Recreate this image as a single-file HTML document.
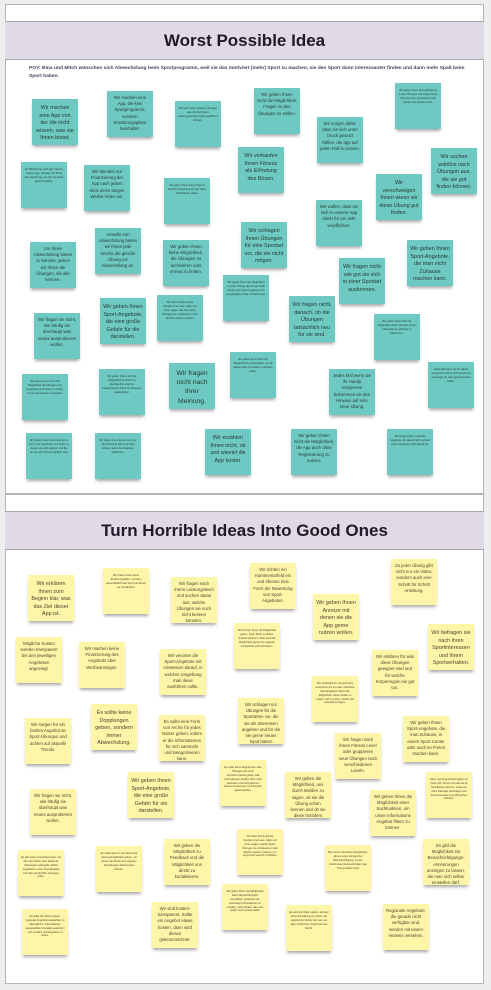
<!DOCTYPE html>
<html><head><meta charset="utf-8"><style>
html,body{margin:0;padding:0;}
body{width:491px;height:990px;background:#eeeeee;position:relative;overflow:hidden;font-family:"Liberation Sans",sans-serif;}
.fr{position:absolute;left:5px;width:479px;background:#fff;border:1px solid #b5b5b5;box-sizing:border-box;}
.band{position:absolute;left:5px;width:479px;background:#e0dae6;border-top:1px solid #a9a4ad;border-bottom:1px solid #a9a4ad;box-sizing:border-box;text-align:center;font-weight:bold;font-size:17px;color:#1f1a2a;}
.n{position:absolute;width:46px;height:46px;box-sizing:border-box;padding:4px 3px;text-align:center;font-size:4.3px;line-height:1.45;color:#2a3a38;box-shadow:0 3px 3px -1px rgba(0,0,0,0.35);overflow:hidden;}
.g{background:#6dc9c1;}
.y{background:#fdf5a8;color:#4a4630;}
.b{font-size:5.4px;line-height:1.4;padding-top:6px;}
.t{font-size:2.6px;line-height:1.5;padding-top:6px;}
.L{font-size:6.8px;line-height:1.35;padding-top:6px;}
</style></head><body>
<div class="fr" style="top:4px;height:490px;"></div>
<div class="band" style="top:21px;height:39px;line-height:37px;">Worst Possible Idea</div>
<div style="position:absolute;left:29px;top:65px;width:440px;font-size:4.9px;line-height:7.5px;font-weight:bold;color:#4a3a5a;">POV: Bina und Mitch wünschen sich Abwechslung beim Sportprogramm, weil sie das motiviert (mehr) Sport zu machen, sie den Sport dann interessanter finden und dann mehr Spaß beim Sport haben.</div>

<div class="n g b" style="left:32px;top:99px;">Wir machen eine App von der die nicht wissen, was sie Ihnen bietet.</div>
<div class="n g" style="left:107px;top:91px;">Wir machen eine App, die kein Sportprogramm, sondern Ernährungspläne beinhaltet.</div>
<div class="n g t" style="left:175px;top:101px;">Wir such einer schwere Übungen aus, die höchstens Leistungssportler richtig ausführen können.</div>
<div class="n g" style="left:254px;top:88px;">Wir geben Ihnen nicht die Möglichkeit, Fragen zu den Übungen zu stellen.</div>
<div class="n g t" style="left:395px;top:83px;">Wir geben Ihnen keine Erklärung zu den Übungen und zeigen Ihnen nicht wie man sie ausführt oder worauf man achten muss.</div>
<div class="n g" style="left:317px;top:117px;">Wir sorgen dafür, dass sie sich unter Druck gesetzt fühlen, die app auf jeden Fall zu nutzen.</div>
<div class="n g b" style="left:238px;top:147px;">Wir verkaufen Ihnen Fitness als Erfindung des Bösen.</div>
<div class="n g b" style="left:431px;top:148px;">Wir suchen wahllos nach Übungen aus, die sie gut finden können.</div>
<div class="n g t" style="left:21px;top:162px;">Zur Belohnung nach dem Nutzen unserer app, schicken wir Ihnen eine Rechnung, von der sie nichts gewusst haben.</div>
<div class="n g" style="left:84px;top:165px;">Wir blenden zur Finanzierung der App nach jedem Klick einen langen Werbe-Video ein.</div>
<div class="n g t" style="left:164px;top:178px;">Wir geben Ihnen keine Tipps in welcher Umgebung sie den Sport durchführen sollen.</div>
<div class="n g b" style="left:376px;top:174px;">Wir verschweigen Ihnen wieso wir diese Übung gut finden.</div>
<div class="n g" style="left:316px;top:200px;">Wir wollen, dass sie sich in unserer App direkt für ein Jahr verpflichten.</div>
<div class="n g b" style="left:241px;top:222px;">Wir schlagen Ihnen Übungen für eine Sportart vor, die sie nicht mögen.</div>
<div class="n g" style="left:30px;top:242px;">Um Ihnen Abwechslung bieten zu können, geben wir Ihnen die Übungen, die alle kennen.</div>
<div class="n g" style="left:95px;top:228px;">Anstelle von Abwechslung bieten wir Ihnen jede Woche die gleiche Übung zur Abwechslung an.</div>
<div class="n g" style="left:163px;top:240px;">Wir geben Ihnen keine Möglichkeit, die Übungen zu archivieren oder erneut zu finden.</div>
<div class="n g b" style="left:407px;top:240px;">Wir geben Ihnen Sport-Angebote, die man nicht Zuhause machen kann.</div>
<div class="n g b" style="left:339px;top:258px;">Wir fragen nicht wie gut sie sich in einer Sportart auskennen.</div>
<div class="n g t" style="left:223px;top:275px;">Wir geben Ihnen die Möglichkeit zu jeder Übung, die sie geschafft haben eine Sport-Leggings zum vergünstigten Preis zu bekommen.</div>
<div class="n g b" style="left:100px;top:298px;">Wir geben Ihnen Sport-Angebote, die eine große Gefahr für die darstellen.</div>
<div class="n g t" style="left:157px;top:295px;">Wir üben Druck auf die Sportler:innen aus, indem wir ihnen sagen, das aus Sport-Übungen sie mindestens in der Woche machen müssen.</div>
<div class="n g b" style="left:289px;top:296px;">Wir fragen nicht, danach, ob die Übungen tatsächlich neu für sie sind.</div>
<div class="n g" style="left:34px;top:313px;">Wir fragen sie nicht, wie häufig sie überhaupt was neues ausprobieren wollen.</div>
<div class="n g t" style="left:374px;top:314px;">Wir geben Ihnen nicht die Möglichkeit auch mal keine neuen Informationen geboten zu bekommen.</div>
<div class="n g t" style="left:230px;top:352px;">Wir geben Ihnen nicht die Möglichkeit zu entscheiden, ob sie alleine oder mit anderen trainieren wollen.</div>
<div class="n g L" style="left:169px;top:363px;">Wir fragen nicht nach Ihrer Meinung.</div>
<div class="n g t" style="left:22px;top:374px;">Wir geben Ihnen nicht die Möglichkeit die Übungen und Angebote mit anderen zu teilen, um sie gemeinsam zu machen.</div>
<div class="n g t" style="left:99px;top:369px;">Wir geben Ihnen nicht die Möglichkeit ihr Archiv zu durchsuchen oder es kategorisieren damit sie Übungen wiederfinden.</div>
<div class="n g" style="left:329px;top:369px;">Jedes Mal wenn sie ihr Handy entsperren bekommen sie den Hinweis auf eine neue Übung.</div>
<div class="n g t" style="left:428px;top:362px;">Jedes Mal wenn sie ihr Handy entsperren wird Ihr Schweinehund angezeigt, ob man Sport gemacht haben.</div>
<div class="n g t" style="left:26px;top:433px;">Wir geben Ihnen Informationen in Form von Angeboten von Orten, in denen sie nicht wohnen und die für sie auch nicht erreichbar sind.</div>
<div class="n g t" style="left:95px;top:433px;">Wir bieten Ihnen keine Form von Terminierung, damit sie nicht wissen, wann die Angebote stattfinden.</div>
<div class="n g b" style="left:205px;top:429px;">Wir erzählen Ihnen nicht, ob und wieviel die App kostet.</div>
<div class="n g" style="left:291px;top:429px;">Wir geben Ihnen nicht die Möglichkeit, die App auch ohne Registrierung zu nutzen.</div>
<div class="n g t" style="left:387px;top:429px;">Wir zeigen Ihnen regionale Angebote, die aktuell nicht nutzbar sind und weisen nicht darauf hin.</div>

<div class="fr" style="top:494px;height:490px;"></div>
<div class="band" style="top:511px;height:39px;line-height:37px;">Turn Horrible Ideas Into Good Ones</div>

<div class="n y b" style="left:28px;top:575px;">Wir erklären Ihnen zum Beginn klar, was das Ziel dieser App ist.</div>
<div class="n y t" style="left:103px;top:568px;">Wir haben Ihnen keine Ernährungspläne, sondern ausschließlich auf Sport bei denen sie Verständnis.</div>
<div class="n y" style="left:171px;top:577px;">Wir fragen nach ihrem Leistungslevel und suchen daran aus, welche Übungen sie noch nicht kennen könnten.</div>
<div class="n y" style="left:250px;top:563px;">Wir richten ein Kommentarfeld ein und ebenso eine Form der Bewertung von Sport-Angeboten.</div>
<div class="n y" style="left:391px;top:559px;">Zu jeder Übung gibt nicht nur ein Video, sondern auch eine Schritt für Schritt Anleitung.</div>
<div class="n y b" style="left:313px;top:594px;">Wir geben Ihnen Anreize mit denen sie die App gerne nutzen wollen.</div>
<div class="n y t" style="left:234px;top:623px;">Wir können Ihnen die Möglichkeit geben, einen Sport zu finden. Sowohl auf Ihnen, aber auch die Möglichkeit geben ihre eigenen Fortschritte aufzuschreiben.</div>
<div class="n y b" style="left:428px;top:624px;">Wir befragen sie nach ihren Sportinteressen und ihrem Sportverhalten.</div>
<div class="n y" style="left:16px;top:637px;">Mögliche Kosten werden transparent bei den jeweiligen Angeboten angezeigt.</div>
<div class="n y" style="left:79px;top:642px;">Wir machen keine Finanzierung des Angebots über Werbeanzeigen.</div>
<div class="n y" style="left:160px;top:649px;">Wir verorten die Sport-Angebote mit Hinweisen darauf, in welcher Umgebung man diese ausführen sollte.</div>
<div class="n y" style="left:372px;top:650px;">Wir erklären für was diese Übungen geeignet sind und für welche Körperregion sie gut tun.</div>
<div class="n y t" style="left:312px;top:676px;">Wir verdeutlichen, sie sich beim Aussuchen für ein paar motivierte Sportangebote haben die Möglichkeit, diese Inhalte zu zeigen und zu sehen, welche die Auswahl anzeigen.</div>
<div class="n y" style="left:238px;top:698px;">Wir schlagen nur Übungen für die Sportarten vor, die sie als Interessen angeben und für die sie gerne neuen Input haben möchten.</div>
<div class="n y" style="left:25px;top:718px;">Wir sorgen für ein breites Angebot an Sport-Übungen und achten auf aktuelle Trends.</div>
<div class="n y b" style="left:91px;top:704px;">Es sollte keine Dopplungen geben, sondern immer Abwechslung.</div>
<div class="n y" style="left:159px;top:715px;">Es sollte eine Form von Archiv für jedes Nutzer geben, indem er die Informationen für sich sammeln und kategorisieren kann.</div>
<div class="n y" style="left:335px;top:733px;">Wir fragen nach ihrem Fitness Level oder gruppieren neue Übungen nach verschiedenen Leveln.</div>
<div class="n y" style="left:403px;top:716px;">Wir geben Ihnen Sport-Angebote, die man Zuhause, in einem Sport Center oder auch im Freien machen kann.</div>
<div class="n y b" style="left:128px;top:772px;">Wir geben Ihnen Sport-Angebote, die eine große Gefahr für sie darstellen.</div>
<div class="n y t" style="left:220px;top:760px;">Es sollte keine Dopplungen oder Übungen aus einer Sportkommentar geben. Alle Informationen werden dann nicht verändert und Informationen können zusammen mit Freunden geteilt werden.</div>
<div class="n y" style="left:285px;top:772px;">Wir geben die Möglichkeit, uns durch Melden zu sagen, ob sie die Übung schon kennen und ob sie diese trotzdem interessant finden.</div>
<div class="n y t" style="left:426px;top:772px;">Dann neu Angemeldet zeigen wir ihnen den Termin und wie sie es kontaktieren können, sowie sie ihren Kalender übertragen und ihren Freunden zum Mitmachen schicken.</div>
<div class="n y" style="left:30px;top:789px;">Wir fragen sie nicht, wie häufig sie überhaupt was neues ausprobieren wollen.</div>
<div class="n y" style="left:370px;top:790px;">Wir geben Ihnen die Möglichkeit einer Suchfunktion, um unser Informations Angebot filtern zu können.</div>
<div class="n y t" style="left:237px;top:829px;">Wir üben Druck auf die Sportler:innen aus, indem wir ihnen sagen, welche Sport-Übungen sie mindestens in der Woche machen müssen, um Angst und gesund zu bleiben.</div>
<div class="n y t" style="left:96px;top:846px;">Es sollte auch für sie direkt eine Sammelmöglichkeit geben, mit denen die Nutzer ihre eigenen Sammlungen durchsuchen können.</div>
<div class="n y" style="left:164px;top:839px;">Wir geben die Möglichkeit zu Feedback und die Möglichkeit uns direkt zu kontaktieren.</div>
<div class="n y t" style="left:18px;top:850px;">Es gibt einen Anmeldeprozess, mit dem der Nutzer über bekannte Meinungen weitergibt. Selbst Angebote in einer Freundesliste und über persönliche Lösungen teilen.</div>
<div class="n y t" style="left:325px;top:845px;">Bei neuen Informationsangeboten, gibt es einen Hinweis der Benachrichtigung, wo ein bestimmtes Nutzerverhalten das Thema selbst zeigt.</div>
<div class="n y" style="left:423px;top:839px;">Es gibt die Möglichkeit ein Benachrichtigungs-erinnerungen anzeigen zu lassen, die man sich selber einstellen darf.</div>
<div class="n y t" style="left:222px;top:884px;">Wir geben Ihnen die Möglichkeit diese Wunschübungen auswählen, speichern sie überhaupt Informationen zu erhalten. Lebe daraus, das man später noch andere wählt.</div>
<div class="n y" style="left:152px;top:902px;">Wir sind kosten-transparent. Sollte ein Angebot etwas kosten, dann wird dieses gekennzeichnet.</div>
<div class="n y t" style="left:286px;top:905px;">Es wird die Option geben, die App ohne Anmeldung zu nutzen, als registrierter Nutzer hat man von allen Funktionen Zugriff auf sein Recht.</div>
<div class="n y" style="left:383px;top:904px;">Regionale Angebote, die gerade nicht verfügbar sind, werden mit einem Hinweis versehen.</div>
<div class="n y t" style="left:22px;top:909px;">Es sollte die Option geben, regionale Angebote auswählen zu abzuwählen. Informationen ausgewählten Kontakte speichern und zu teilen und Angebote zu sehen.</div>
</body></html>
